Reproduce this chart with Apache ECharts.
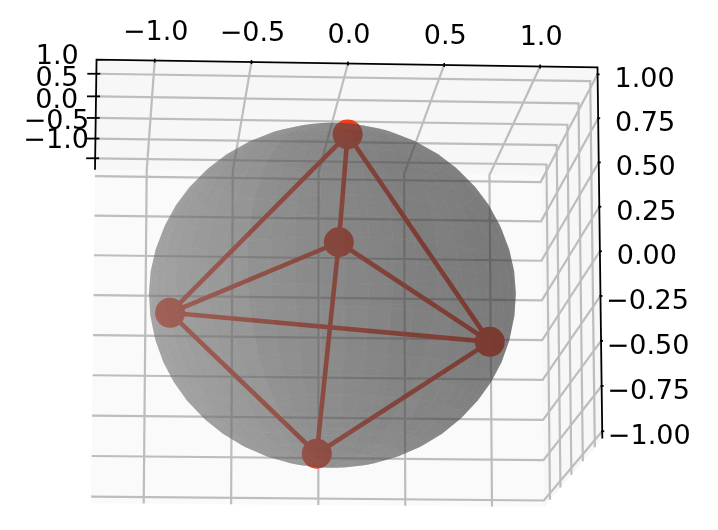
<!DOCTYPE html>
<html><head><meta charset="utf-8">
<style>html,body{margin:0;padding:0;background:#fff}#c{width:718px;height:530px}</style>
<script src="https://cdn.jsdelivr.net/npm/echarts@6/dist/echarts.min.js"></script>
</head><body><div id="c"></div>
<script>
// Data
const depthTicks = [-1, -0.5, 0, 0.5, 1];
const depthLabels = ['\u22121.0', '\u22120.5', '0.0', '0.5', '1.0'];
const widthTicks = [-1, -0.5, 0, 0.5, 1];
const widthLabels = ['\u22121.0', '\u22120.5', '0.0', '0.5', '1.0'];
const heightTicks = [-1, -0.75, -0.5, -0.25, 0, 0.25, 0.5, 0.75, 1];
const heightLabels = ['\u22121.00', '\u22120.75', '\u22120.50', '\u22120.25', '0.00', '0.25', '0.50', '0.75', '1.00'];
const nodeDepth  = [-0.09, 0.09, 0.99, -0.46, -0.48];
const nodeWidth  = [0.09, -0.09, -0.028, -0.875, 0.91];
const nodeHeight = [0.985, -0.945, 0.10, -0.022, -0.172];
const edgeFrom = [0, 0, 0, 1, 1, 1, 2, 2, 3];
const edgeTo   = [2, 3, 4, 2, 3, 4, 3, 4, 4];

// Camera and box
const LIM = 1.3, LIMZ = 1.04, HXY = 0.653, HZ = 0.49, DIST = 10.8;
const EL = 10.8 * Math.PI / 180, DL = 3.56 * Math.PI / 180;
const SCALE = 3941, CX = 332.4, CY = 295.5;
const n = [Math.cos(DL)*Math.cos(EL), -Math.sin(DL)*Math.cos(EL), -Math.sin(EL)];
const v = [Math.sin(EL)*Math.cos(DL), -Math.sin(EL)*Math.sin(DL), Math.cos(EL)];
const u = [Math.sin(DL), Math.cos(DL), 0];
function cam(x, y, z) {
  const c = [x/LIM*HXY, y/LIM*HXY, z/LIMZ*HZ];
  const dot = a => a[0]*c[0]+a[1]*c[1]+a[2]*c[2];
  return [dot(u), dot(v), dot(n)];
}
function project(x, y, z) {
  const p = cam(x, y, z), d = DIST - p[2];
  return [CX + SCALE*p[0]/d, CY - SCALE*p[1]/d];
}

const series = [];
function polyLine(pts, color, width, z) {
  series.push({type:'line', data:pts, showSymbol:false, symbol:'none', silent:true, animation:false, z:z,
    lineStyle:{color:color, width:width, cap:'butt', join:'miter'}, clip:false});
}
function polygons(items, z) {
  series.push({type:'custom', coordinateSystem:'cartesian2d', silent:true, animation:false, z:z, clip:false,
    data: items.map((it,i)=>[it.pts[0][0], it.pts[0][1], i]),
    renderItem:(params, api)=>{
      const it = items[api.value(2)];
      return {type:'polygon', shape:{points:it.pts.map(p=>api.coord(p))}, style:{fill:it.fill, lineWidth:0}};
    }});
}

// Panes
polygons([
  {pts:[project(-LIM,-LIM,-LIMZ),project(-LIM,LIM,-LIMZ),project(-LIM,LIM,LIMZ),project(-LIM,-LIM,LIMZ)], fill:'#fafafa'},
  {pts:[project(-LIM,-LIM,LIMZ),project(-LIM,LIM,LIMZ),project(LIM,LIM,LIMZ),project(LIM,-LIM,LIMZ)], fill:'#f7f7f7'},
  {pts:[project(-LIM,LIM,-LIMZ),project(LIM,LIM,-LIMZ),project(LIM,LIM,LIMZ),project(-LIM,LIM,LIMZ)], fill:'#f7f7f7'}
], 1);

// Grid lines
const GRID = '#bdbdbd', GW = 2.2;
widthTicks.forEach(t => polyLine([project(-LIM,t,-LIMZ),project(-LIM,t,LIMZ),project(LIM,t,LIMZ)], GRID, GW, 2));
depthTicks.forEach(t => polyLine([project(t,-LIM,LIMZ),project(t,LIM,LIMZ),project(t,LIM,-LIMZ)], GRID, GW, 2));
heightTicks.forEach(t => polyLine([project(-LIM,-LIM,t),project(-LIM,LIM,t),project(LIM,LIM,t)], GRID, GW, 2));

// Axis lines and ticks
polyLine([project(-LIM,-LIM,LIMZ),project(LIM,-LIM,LIMZ),project(LIM,LIM,LIMZ),project(LIM,LIM,-LIMZ)], '#000', 1.8, 3);
widthTicks.forEach(t => { const p = project(LIM,t,LIMZ); polyLine([[p[0],p[1]-2],[p[0],p[1]+2]], '#000', 1.6, 3); });
depthTicks.forEach(t => { const p = project(t,-LIM,LIMZ); polyLine([[p[0]-9,p[1]],[p[0]+4,p[1]]], '#000', 1.8, 3); });
heightTicks.forEach(t => { const p = project(LIM,LIM,t); polyLine([[p[0]-1,p[1]],[p[0]+2,p[1]]], '#000', 1.8, 3); });

// Edges and nodes
const nodePts = nodeDepth.map((d,i)=>project(d, nodeWidth[i], nodeHeight[i]));
const RED = '#f23c1e';
edgeFrom.forEach((a,i)=>polyLine([nodePts[a], nodePts[edgeTo[i]]], RED, 4.6, 4));
series.push({type:'scatter', data:nodePts, symbol:'circle', symbolSize:30, silent:true, animation:false, z:5, itemStyle:{color:RED, opacity:1}, clip:false});

// Sphere mesh
const NU = 48, NV = 24, ALPHA = 0.42;
const faces = [];
const pt = (a,b)=>[Math.sin(b)*Math.cos(a), Math.sin(b)*Math.sin(a), Math.cos(b)];
for (let i=0;i<NU;i++) for (let j=0;j<NV;j++) {
  const a0=i/NU*2*Math.PI, a1=(i+1)/NU*2*Math.PI, b0=j/NV*Math.PI, b1=(j+1)/NV*Math.PI;
  const q=[pt(a0,b0),pt(a1,b0),pt(a1,b1),pt(a0,b1)];
  const m=pt((a0+a1)/2,(b0+b1)/2);
  const r=Math.hypot(m[0],m[1])||1;
  const rim=(m[0]>0 && Math.abs(m[1]/r)>0.55) ? 6 : 0;
  const g=Math.round(87-30*(m[0]+m[1])+rim);
  const depth=cam(m[0],m[1],m[2])[2];
  faces.push({depth, pts:q.map(p=>project(p[0],p[1],p[2])), fill:`rgba(${g},${g},${g},${ALPHA})`});
}
faces.sort((a,b)=>a.depth-b.depth);
polygons(faces, 6);

// Tick labels
const FS = 27;
const labels = [];
widthTicks.forEach((t,i)=>{const p=project(LIM,t,LIMZ); labels.push({p, s:widthLabels[i], dx:1, dy:-28});});
depthTicks.forEach((t,i)=>{const p=project(t,-LIM,LIMZ); labels.push({p, s:depthLabels[i], dx:-39, dy:-17});});
heightTicks.forEach((t,i)=>{const p=project(LIM,LIM,t); labels.push({p, s:heightLabels[i], dx:47, dy:6});});
series.push({type:'custom', coordinateSystem:'cartesian2d', silent:true, animation:false, z:7, clip:false,
  data:labels.map((l,i)=>[l.p[0],l.p[1],i]),
  renderItem:(params,api)=>{
    const l=labels[api.value(2)], c=api.coord([l.p[0],l.p[1]]);
    return {type:'text', x:c[0]+l.dx, y:c[1]+l.dy, style:{text:l.s, fill:'#000', fontFamily:'DejaVu Sans', fontSize:FS, textAlign:'center', textVerticalAlign:'middle'}};
  }});

const chart = echarts.init(document.getElementById('c'), null, {renderer:'canvas', width:718, height:530});
chart.setOption({
  animation:false, backgroundColor:'#fff',
  grid:{left:0,right:0,top:0,bottom:0},
  xAxis:{type:'value', min:0, max:718, show:false},
  yAxis:{type:'value', min:0, max:530, inverse:true, show:false},
  series
});
</script></body></html>
